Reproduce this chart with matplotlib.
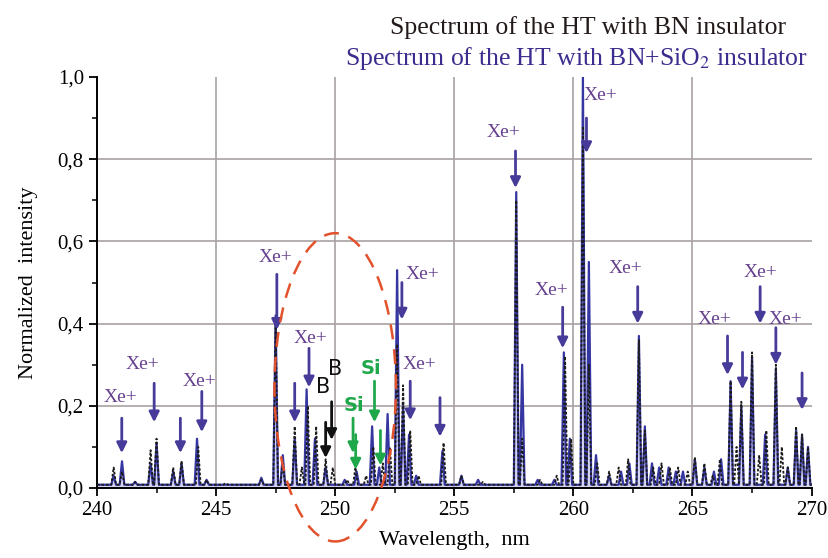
import numpy as np
import matplotlib.pyplot as plt
from matplotlib.patches import Ellipse
from matplotlib.ticker import FuncFormatter, MultipleLocator

plt.rcParams['font.family'] = ['Liberation Serif', 'DejaVu Serif']
plt.rcParams['mathtext.fontset'] = 'stix'

# BN insulator spectrum (black): peak wavelengths (nm) and normalized heights
bn_wl = [240.7, 241.05, 241.6, 242.25, 242.5, 243.2, 243.55, 244.25, 244.6, 245.4,
         246.9, 247.5, 247.8, 248.3, 248.6, 248.85, 249.2, 249.6, 249.9, 250.5,
         250.85, 251.3, 251.6, 252.0, 252.3, 252.6, 252.85, 253.15, 253.5, 254.55,
         255.3, 256.2, 257.6, 257.85, 258.6, 259.3, 259.65, 259.9, 260.4, 260.65,
         261.0, 261.5, 261.9, 262.3, 262.75, 263.0, 263.35, 263.7, 264.05, 264.4,
         264.8, 265.1, 265.5, 265.85, 266.15, 266.6, 266.85, 267.05, 267.5, 267.8,
         268.1, 268.5, 268.75, 269.0, 269.35, 269.6, 269.85]
bn_int = [0.05, 0.04, 0.015, 0.092, 0.12, 0.05, 0.066, 0.10, 0.02, 0.012,
          0.02, 0.40, 0.06, 0.15, 0.05, 0.20, 0.15, 0.07, 0.05, 0.02,
          0.05, 0.03, 0.10, 0.06, 0.10, 0.35, 0.25, 0.14, 0.03, 0.11,
          0.03, 0.015, 0.70, 0.12, 0.02, 0.03, 0.32, 0.12, 0.88, 0.30,
          0.06, 0.04, 0.05, 0.07, 0.36, 0.14, 0.05, 0.06, 0.05, 0.05,
          0.04, 0.075, 0.06, 0.03, 0.07, 0.26, 0.10, 0.21, 0.33, 0.08,
          0.14, 0.30, 0.10, 0.05, 0.15, 0.13, 0.10]

# BN+SiO2 insulator spectrum (blue)
sio_wl = [240.7, 241.05, 241.6, 242.25, 242.5, 243.2, 243.55, 244.2, 244.6, 246.9,
          247.5, 247.8, 248.3, 248.8, 249.15, 249.6, 250.4, 250.9, 251.55, 251.85,
          252.2, 252.6, 252.85, 253.1, 253.4, 254.5, 255.3, 256.0, 257.6, 257.85,
          258.5, 259.2, 259.6, 259.85, 260.4, 260.65, 260.95, 261.5, 262.0, 262.35,
          262.75, 263.0, 263.3, 263.6, 264.0, 264.3, 264.6, 265.1, 265.5, 265.9,
          266.2, 266.6, 267.05, 267.5, 268.05, 268.5, 269.0, 269.35, 269.6, 269.85]
sio_int = [0.03, 0.065, 0.015, 0.06, 0.11, 0.04, 0.06, 0.12, 0.02, 0.025,
           0.42, 0.08, 0.12, 0.24, 0.12, 0.05, 0.02, 0.04, 0.15, 0.05,
           0.18, 0.53, 0.20, 0.13, 0.03, 0.09, 0.03, 0.02, 0.72, 0.30,
           0.02, 0.02, 0.33, 0.12, 1.0, 0.55, 0.08, 0.03, 0.04, 0.06,
           0.37, 0.15, 0.06, 0.05, 0.05, 0.04, 0.04, 0.07, 0.05, 0.04,
           0.07, 0.26, 0.20, 0.32, 0.13, 0.29, 0.05, 0.14, 0.13, 0.10]
baseline = 0.008

# Xe+ arrows: wavelength, arrow start, arrow tip
xe_arrow_x = [241.04, 242.4, 243.5, 244.4, 247.55, 248.3, 248.9, 252.8, 253.15, 254.4,
              257.57, 259.55, 260.55, 262.7, 266.47, 267.1, 267.84, 268.5, 269.6]
xe_arrow_top = [0.17, 0.255, 0.17, 0.235, 0.52, 0.255, 0.34, 0.50, 0.26, 0.22,
                0.82, 0.44, 0.90, 0.49, 0.37, 0.33, 0.49, 0.39, 0.28]
xe_arrow_tip = [0.085, 0.16, 0.085, 0.136, 0.385, 0.16, 0.245, 0.41, 0.165, 0.125,
                0.73, 0.34, 0.815, 0.40, 0.275, 0.24, 0.40, 0.30, 0.19]
xe_label_x = [241.0, 241.9, 244.3, 247.5, 248.95, 253.65, 253.55, 257.06, 259.06,
              261.15, 262.2, 265.93, 267.84, 268.9]
xe_label_y = [0.22, 0.30, 0.26, 0.56, 0.365, 0.52, 0.30, 0.866, 0.48,
              0.956, 0.535, 0.41, 0.525, 0.41]

b_arrow_x = [249.6, 249.85]
b_arrow_top = [0.16, 0.21]
b_arrow_tip = [0.073, 0.117]
b_label_x = [249.5, 250.0]
b_label_y = [0.245, 0.29]

si_arrow_x = [250.75, 250.86, 251.65, 251.9]
si_arrow_top = [0.17, 0.13, 0.26, 0.14]
si_arrow_tip = [0.085, 0.045, 0.16, 0.055]
si_label_x = [250.8, 251.5]
si_label_y = [0.20, 0.29]

xticks = [240, 245, 250, 255, 260, 265, 270]
yticks = [0.0, 0.2, 0.4, 0.6, 0.8, 1.0]


def spectrum(wl, inten, hw=0.1):
    xs = [240.0]
    ys = [baseline]
    for c, h in zip(wl, inten):
        xs += [c - hw, c, c + hw]
        ys += [baseline, h, baseline]
    xs.append(270.0)
    ys.append(baseline)
    return np.array(xs), np.array(ys)


fig = plt.figure(figsize=(8.29, 5.58), dpi=100)
ax = fig.add_axes([0.117, 0.1254, 0.862, 0.7366])

for v in xticks[1:-1]:
    ax.axvline(v, color='#a9a1a1', lw=1.2, zorder=0)
for v in yticks[1:-1]:
    ax.axhline(v, color='#a9a1a1', lw=1.2, zorder=0)

sx, sy = spectrum(sio_wl, sio_int)
bx, by = spectrum(bn_wl, bn_int)
ax.fill_between(sx, 0, sy, color='#b9b9e6', alpha=0.6, lw=0, zorder=1)
ax.plot(sx, sy, color='#3636a2', lw=1.6, zorder=2)
ax.plot(bx, by, color='#1c1c1c', lw=1.3, ls=(0, (1.5, 1)), zorder=3)

arrow_kw = dict(arrowstyle='-|>', lw=2.0, mutation_scale=15, shrinkA=0, shrinkB=0)
for x, t, b in zip(xe_arrow_x, xe_arrow_top, xe_arrow_tip):
    ax.annotate('', xy=(x, b), xytext=(x, t),
                arrowprops=dict(color='#473b9a', **arrow_kw), zorder=5)
for x, t, b in zip(b_arrow_x, b_arrow_top, b_arrow_tip):
    ax.annotate('', xy=(x, b), xytext=(x, t),
                arrowprops=dict(color='#111111', **arrow_kw), zorder=5)
for x, t, b in zip(si_arrow_x, si_arrow_top, si_arrow_tip):
    ax.annotate('', xy=(x, b), xytext=(x, t),
                arrowprops=dict(color='#1fa84a', **arrow_kw), zorder=5)

for x, y in zip(xe_label_x, xe_label_y):
    ax.text(x, y, 'Xe+', color='#66418f', fontsize=14, ha='center', va='center', zorder=6)
for x, y in zip(b_label_x, b_label_y):
    ax.text(x, y, 'B', color='#111111', fontsize=15, family='DejaVu Sans',
            ha='center', va='center', zorder=6)
for x, y in zip(si_label_x, si_label_y):
    ax.text(x, y, 'Si', color='#1fa84a', fontsize=14, family='DejaVu Sans',
            fontweight='bold', ha='center', va='center', zorder=6)

ax.add_patch(Ellipse((250.0, 0.245), width=5.1, height=0.75, fill=False,
                     ls=(0, (6, 4)), color='#e2522c', lw=1.8, clip_on=False, zorder=7))

ax.set_xlim(240, 270)
ax.set_ylim(0, 1.0)
ax.set_xticks(xticks)
ax.set_yticks(yticks)
ax.xaxis.set_minor_locator(MultipleLocator(2.5))
ax.yaxis.set_minor_locator(MultipleLocator(0.1))
ax.yaxis.set_major_formatter(FuncFormatter(lambda v, p: f'{v:.1f}'.replace('.', ',')))
ax.tick_params(which='major', direction='out', length=6, width=1.3, labelsize=15)
ax.tick_params(which='minor', direction='out', length=3.5, width=1.1)
for s in ['top', 'right']:
    ax.spines[s].set_visible(False)
for s in ['left', 'bottom']:
    ax.spines[s].set_linewidth(1.4)

ax.set_xlabel('Wavelength,  nm', fontsize=16, labelpad=8)
ax.set_ylabel('Normalized  intensity', fontsize=16, labelpad=14)

fig.text(0.709, 0.95, 'Spectrum of the HT with BN insulator', fontsize=18.5,
         color='#231a1a', ha='center', va='center')
fig.text(0.696, 0.896, 'Spectrum of the HT with BN+SiO$_2$ insulator', fontsize=18.5,
         color='#3a2d8e', ha='center', va='center')

fig.savefig('out.png', dpi=100)
